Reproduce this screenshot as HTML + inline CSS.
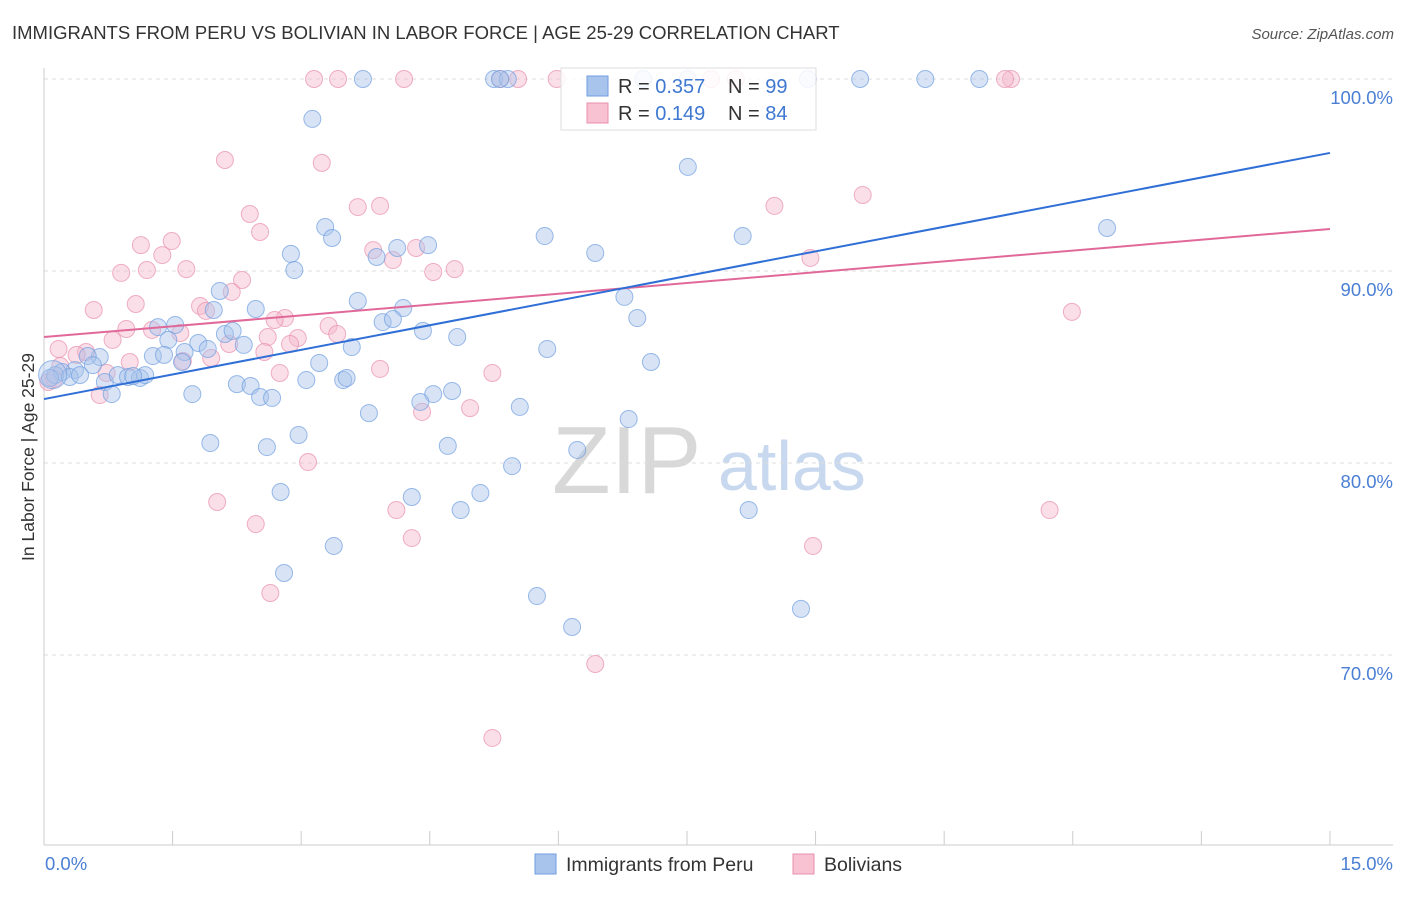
<!DOCTYPE html>
<html><head><meta charset="utf-8"><style>
body{margin:0;background:#fff;font-family:"Liberation Sans",sans-serif;}
svg text{font-family:"Liberation Sans",sans-serif;}
</style></head><body>
<svg id="chart" width="1406" height="892" viewBox="0 0 1406 892">
<text x="12" y="39" font-size="18.5" fill="#333">IMMIGRANTS FROM PERU VS BOLIVIAN IN LABOR FORCE | AGE 25-29 CORRELATION CHART</text>
<text x="1394" y="39" font-size="15" fill="#555" font-style="italic" text-anchor="end">Source: ZipAtlas.com</text>
<g>
<text x="552" y="493" font-size="96" fill="#d8d8d8" font-family="Liberation Serif">ZIP</text>
<text x="718" y="490" font-size="70" fill="#c8d8ef">atlas</text>
</g>
<g id="grid"></g>
<g id="axes"></g>
<g id="marks"></g>
<g>
<rect x="561" y="68" width="255" height="62" fill="#fff" fill-opacity="0.85" stroke="#ddd"/>
<rect x="587" y="76" width="21" height="20" fill="#a8c4ec" stroke="#6f9ee0"/>
<text x="618" y="93" font-size="20" fill="#333">R = <tspan fill="#3f78d0">0.357</tspan></text>
<text x="728" y="93" font-size="20" fill="#333">N = <tspan fill="#3f78d0">99</tspan></text>
<rect x="587" y="103" width="21" height="20" fill="#f8c2d2" stroke="#e88fae"/>
<text x="618" y="120" font-size="20" fill="#333">R =  <tspan fill="#3f78d0">0.149</tspan></text>
<text x="728" y="120" font-size="20" fill="#333">N = <tspan fill="#3f78d0">84</tspan></text>
</g>
<g>
<rect x="535" y="854" width="21" height="20" fill="#a8c4ec" stroke="#6f9ee0"/>
<text x="566" y="871" font-size="19.5" fill="#333">Immigrants from Peru</text>
<rect x="793" y="854" width="21" height="20" fill="#f8c2d2" stroke="#e88fae"/>
<text x="824" y="871" font-size="19.5" fill="#333">Bolivians</text>
</g>
<text transform="translate(34,457) rotate(-90)" font-size="17.5" fill="#333" text-anchor="middle">In Labor Force | Age 25-29</text>
</svg>
<script>
const blueX=[3.72,5.25,5.41,6.99,8.91,9.52,10.28,10.91,3.13,7.51,12.40,5.84,8.15,3.28,3.36,4.12,4.48,2.88,3.88,2.92,6.43,6.77,3.66,2.05,2.47,1.98,4.19,6.92,3.95,4.07,4.42,4.82,1.53,1.33,2.11,2.20,1.45,2.33,1.80,3.59,5.87,1.64,1.91,1.27,1.40,0.65,0.51,3.21,7.08,1.61,0.57,0.36,0.21,0.13,0.07,0.30,0.42,0.71,0.86,0.98,1.12,1.18,1.04,3.49,3.53,3.06,2.25,2.41,2.52,2.66,1.73,0.79,4.76,4.54,4.39,3.79,5.55,6.82,2.97,1.94,2.60,4.71,6.22,5.46,4.29,5.09,2.76,4.86,8.22,3.38,2.80,5.75,6.16,8.83,7.51,5.32];
const blueY=[100,100,100,100,100,100,100,100,97.92,95.42,92.24,91.82,91.82,92.29,91.72,91.20,91.35,90.89,90.73,90.05,90.94,88.65,88.44,88.96,88.02,87.97,88.07,87.55,87.34,87.50,86.88,86.56,87.19,87.08,86.72,86.88,86.41,86.15,86.25,86.04,85.94,85.78,85.94,85.57,85.63,85.52,85.57,85.21,85.26,85.26,85.10,84.84,84.74,84.58,84.43,84.48,84.58,84.22,84.58,84.48,84.43,84.58,84.53,84.32,84.43,84.32,84.11,84.01,83.44,83.39,83.59,83.59,83.75,83.59,83.18,82.60,82.92,82.29,81.46,81.04,80.83,80.89,80.68,79.84,78.23,78.44,78.49,77.55,77.55,75.68,74.27,73.07,71.46,72.40,100,100];
const pinkX=[3.15,3.43,4.20,5.53,5.98,7.78,8.07,11.28,2.11,3.24,2.40,3.66,3.92,8.52,9.55,2.52,1.13,1.49,1.38,3.84,4.07,4.34,0.90,1.20,1.66,4.54,4.79,2.31,2.19,8.94,1.07,1.82,0.58,1.89,11.99,2.81,2.69,3.32,3.42,0.96,1.26,1.59,2.61,2.96,2.87,0.17,0.49,0.38,0.80,2.16,2.57,1.62,1.95,1.00,0.73,3.92,5.23,2.75,0.19,0.05,0.12,0.65,4.97,4.41,3.08,2.02,4.11,11.73,2.47,4.29,8.97,2.64,6.43,5.23,5.32,11.21];
const pinkY=[100,100,100,100,100,100,100,100,95.78,95.63,92.97,93.33,93.39,93.39,93.96,92.03,91.35,91.56,90.83,91.09,90.57,91.20,89.90,90.05,90.10,89.95,90.10,89.53,88.91,90.68,88.28,88.18,87.97,87.92,87.87,87.55,87.45,87.14,86.72,86.98,86.93,86.77,86.56,86.51,86.20,85.94,85.78,85.63,86.41,86.20,85.78,85.31,85.47,85.26,84.69,84.90,84.69,84.69,85.05,84.22,84.38,83.54,82.86,82.66,80.05,77.97,77.55,77.55,76.82,76.09,75.68,73.23,69.53,65.68,100,100];
const blueTrend=[83.33,96.15];
const pinkTrend=[86.56,92.19];
const yTicks=[100,90,80,70];
const yTickLabels=["100.0%","90.0%","80.0%","70.0%"];
const xTickLabels=["0.0%","15.0%"];

const NS="http://www.w3.org/2000/svg";
const sx=v=>44+v*85.73;
const sy=v=>79+(100-v)*19.2;
function mk(tag,attrs,parent){const e=document.createElementNS(NS,tag);for(const k in attrs)e.setAttribute(k,attrs[k]);parent.appendChild(e);return e;}
const grid=document.getElementById('grid'),axes=document.getElementById('axes'),marks=document.getElementById('marks');
yTicks.forEach((t,i)=>{
  const l=mk('line',{x1:44,x2:1393,y1:sy(t),y2:sy(t),stroke:'#ddd','stroke-dasharray':'4,4'},grid);
  
  
  const tx=mk('text',{x:1393,y:sy(t)+25,'font-size':18.5,fill:'#4a7fd4','text-anchor':'end'},axes);
  tx.textContent=yTickLabels[i];
  
  
});
let a=mk('line',{x1:44,x2:44,y1:68,y2:845,stroke:'#ccc'},axes);


a=mk('line',{x1:44,x2:1393,y1:845,y2:845,stroke:'#ccc'},axes);


for(let i=1;i<=10;i++){
  const x=sx(i*1.5);
  const t=mk('line',{x1:x,x2:x,y1:831,y2:845,stroke:'#ccc'},axes);
  
  
}
[[0,'start',45],[15,'end',1393]].forEach((d,i)=>{
  const t=mk('text',{x:d[2],y:870,'font-size':18.5,fill:'#4a7fd4','text-anchor':d[1]},axes);
  t.textContent=xTickLabels[i];
  
  
});
function dots(X,Y,fill,stroke,name){
  X.forEach((x,i)=>{
    const c=mk('circle',{cx:sx(x),cy:sy(Y[i]),r:8.5,fill:fill,'fill-opacity':0.45,stroke:stroke,'stroke-opacity':0.7,'stroke-width':1},marks);
    
    
  });
}
dots(pinkX,pinkY,'#f4b8cc','#e88fae','bolivian-point');
dots(blueX,blueY,'#a8c4ec','#6f9ee0','peru-point');
let big=mk('circle',{cx:sx(0.1),cy:sy(84.6),r:14,fill:'#a8c4ec','fill-opacity':0.4,stroke:'#6f9ee0','stroke-opacity':0.7},marks);


let tl=mk('line',{x1:sx(0),y1:sy(pinkTrend[0]),x2:sx(15),y2:sy(pinkTrend[1]),stroke:'#e0699a','stroke-width':2},marks);


tl=mk('line',{x1:sx(0),y1:sy(blueTrend[0]),x2:sx(15),y2:sy(blueTrend[1]),stroke:'#2f6fd6','stroke-width':2},marks);


</script>
</body></html>
